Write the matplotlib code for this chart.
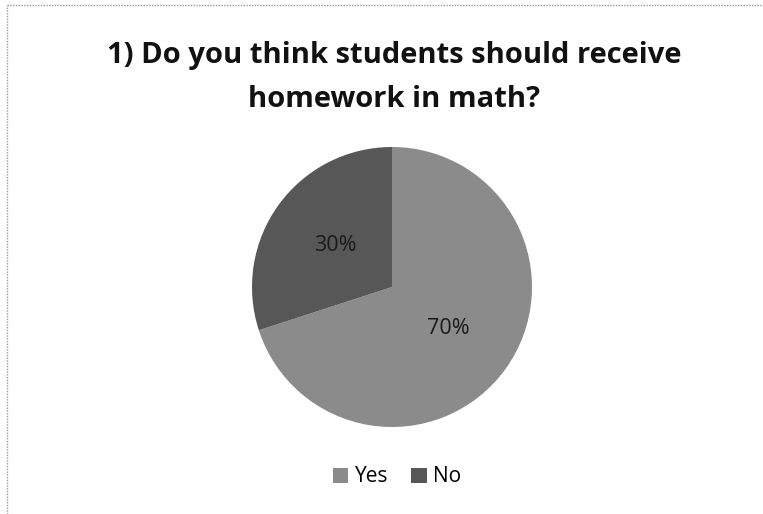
import matplotlib
matplotlib.use('Agg')
import matplotlib.pyplot as plt
from matplotlib.lines import Line2D
from matplotlib.patches import Patch

# data
labels = ['Yes', 'No']
shares = [70, 30]
colors = ['#8b8b8b', '#575757']
title_lines = ['1) Do you think students should receive', 'homework in math?']

plt.rcParams['font.family'] = ['Open Sans', 'DejaVu Sans']

W, H = 763, 514
fig = plt.figure(figsize=(W / 100, H / 100), dpi=100)
fig.patch.set_facecolor('white')

# dotted frame on the top and left edge (scan border)
fig.add_artist(Line2D([7 / W, 1.0], [1 - 5 / H, 1 - 5 / H], transform=fig.transFigure,
                      color='#9a9a9a', lw=1.0, ls=(0, (1, 1))))
fig.add_artist(Line2D([7 / W, 7 / W], [0.0, 1 - 5 / H], transform=fig.transFigure,
                      color='#9a9a9a', lw=1.0, ls=(0, (1, 1))))

# title, one text per line so the baselines can be placed
for line, base in zip(title_lines, [63, 107]):
    fig.text(394 / W, 1 - base / H, line, ha='center', va='baseline', fontsize=21,
             fontweight='bold', color='#111111')

ax = fig.add_axes([252 / W, (H - 427) / H, 280 / W, 280 / H])
wedges, texts, autotexts = ax.pie(shares, colors=colors, startangle=90, counterclock=False,
                                  autopct='%d%%', pctdistance=0.5,
                                  wedgeprops=dict(linewidth=0))
for t in autotexts:
    t.set_fontsize(15.5)
    t.set_color('#1a1a1a')
ax.set_xlim(-1, 1)
ax.set_ylim(-1, 1)
ax.set_aspect('equal')
ax.axis('off')

handles = [Patch(facecolor=c, edgecolor='none') for c in colors]
fig.legend(handles, labels, loc='center', bbox_to_anchor=(397 / W, 1 - 477 / H), ncol=2,
           frameon=False, fontsize=15, handlelength=0.75, handleheight=0.75,
           handletextpad=0.3, columnspacing=1.1)

fig.savefig('out.png', dpi=100, facecolor='white')
